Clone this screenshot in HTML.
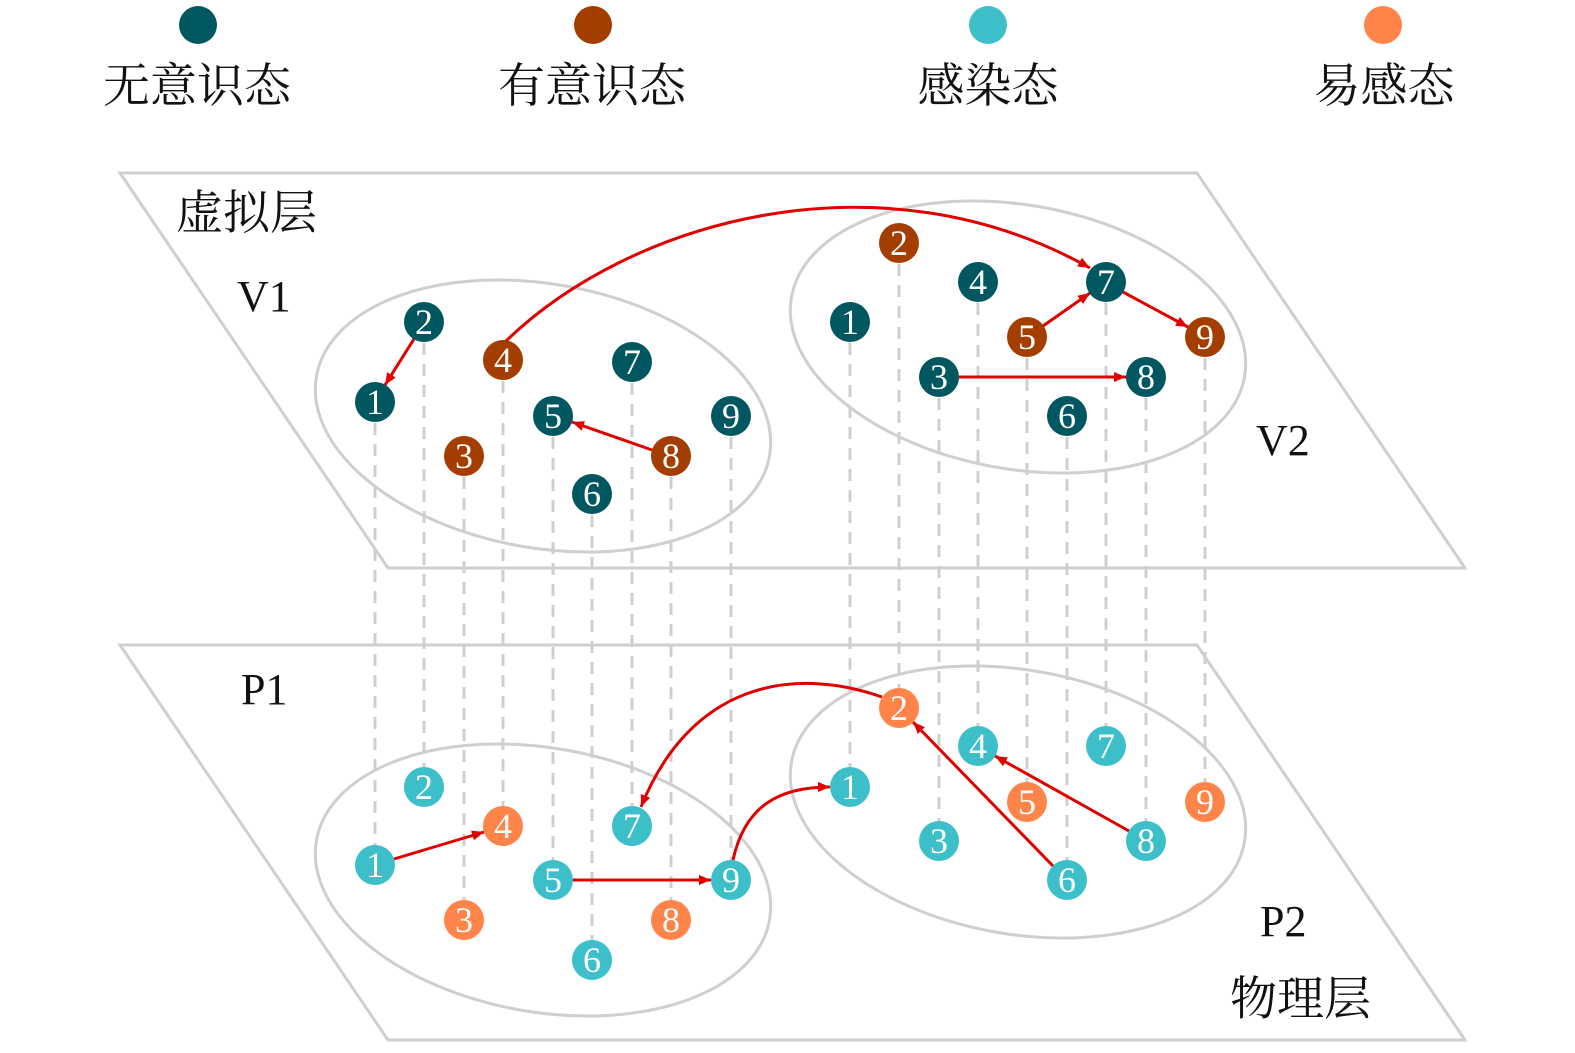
<!DOCTYPE html>
<html><head><meta charset="utf-8"><style>
html,body{margin:0;padding:0;background:#fff;}
svg{display:block}
.cj{font-family:"Liberation Serif","Noto Serif CJK SC",serif;font-size:47px;fill:#111;}
.lb{font-family:"Liberation Serif",serif;font-size:44px;fill:#111;}
.n{font-family:"Liberation Serif",serif;font-size:36px;fill:#fff;text-anchor:middle;dominant-baseline:central;}
</style></head><body>
<svg width="1575" height="1053" viewBox="0 0 1575 1053" xmlns="http://www.w3.org/2000/svg">
<defs>
<marker id="a" markerUnits="userSpaceOnUse" markerWidth="14" markerHeight="12" refX="12" refY="5" orient="auto">
<path d="M0,0 L12,5 L0,10 z" fill="#e00000"/></marker>
</defs>
<circle cx="198" cy="25" r="19" fill="#005760"/>
<circle cx="593" cy="25" r="19" fill="#a33d00"/>
<circle cx="988" cy="25" r="19" fill="#3cbfc9"/>
<circle cx="1383" cy="25" r="19" fill="#ff8449"/>
<text class="cj" x="197" y="102" text-anchor="middle">无意识态</text>
<text class="cj" x="592" y="102" text-anchor="middle">有意识态</text>
<text class="cj" x="988" y="102" text-anchor="middle">感染态</text>
<text class="cj" x="1384" y="102" text-anchor="middle">易感态</text>
<g fill="none" stroke="#cfcfcf" stroke-width="3">
<polygon points="120,173 1197,173 1465,568 388,568"/>
<polygon points="120,645 1197,645 1465,1040 388,1040"/>
<ellipse cx="543" cy="416" rx="230" ry="132" transform="rotate(10 543 416)"/>
<ellipse cx="1018" cy="337" rx="230" ry="132" transform="rotate(10 1018 337)"/>
<ellipse cx="543" cy="880" rx="230" ry="132" transform="rotate(10 543 880)"/>
<ellipse cx="1018" cy="802" rx="230" ry="132" transform="rotate(10 1018 802)"/>
</g>
<text class="cj" x="176" y="229">虚拟层</text>
<text class="cj" x="1230" y="1015">物理层</text>
<text class="lb" x="237" y="311">V1</text>
<text class="lb" x="1256" y="455">V2</text>
<text class="lb" x="241" y="704">P1</text>
<text class="lb" x="1260" y="936">P2</text>
<g stroke="#cfcfcf" stroke-width="3" stroke-dasharray="12,9">
<line x1="375" y1="402" x2="375" y2="865"/>
<line x1="424" y1="322" x2="424" y2="787"/>
<line x1="464" y1="456" x2="464" y2="920"/>
<line x1="503" y1="360" x2="503" y2="826"/>
<line x1="553" y1="416" x2="553" y2="880"/>
<line x1="592" y1="494" x2="592" y2="960"/>
<line x1="632" y1="362" x2="632" y2="826"/>
<line x1="671" y1="456" x2="671" y2="920"/>
<line x1="731" y1="416" x2="731" y2="880"/>
<line x1="850" y1="322" x2="850" y2="787"/>
<line x1="899" y1="243" x2="899" y2="708"/>
<line x1="939" y1="377" x2="939" y2="841"/>
<line x1="978" y1="282" x2="978" y2="746"/>
<line x1="1027" y1="337" x2="1027" y2="802"/>
<line x1="1067" y1="416" x2="1067" y2="880"/>
<line x1="1106" y1="282" x2="1106" y2="746"/>
<line x1="1146" y1="377" x2="1146" y2="841"/>
<line x1="1205" y1="337" x2="1205" y2="802"/>
</g>
<g stroke="#e00000" stroke-width="3" fill="none" marker-end="url(#a)">
<line x1="414" y1="339" x2="385" y2="385"/>
<line x1="652" y1="450" x2="572" y2="422"/>
<path d="M505,342 C630,220 880,150 1090,268"/>
<line x1="1043" y1="326" x2="1090" y2="293"/>
<line x1="1123" y1="292" x2="1188" y2="327"/>
<line x1="959" y1="377" x2="1126" y2="377"/>
<line x1="394" y1="859" x2="484" y2="832"/>
<line x1="573" y1="880" x2="711" y2="880"/>
<path d="M733,860 C745,805 780,787 830,787"/>
<path d="M882,697 C790,665 690,685 641,807"/>
<line x1="1053" y1="866" x2="913" y2="722"/>
<line x1="1129" y1="831" x2="995" y2="756"/>
</g>
<g>
<circle cx="375" cy="402" r="20" fill="#005760"/><text class="n" x="375" y="402">1</text>
<circle cx="424" cy="322" r="20" fill="#005760"/><text class="n" x="424" y="322">2</text>
<circle cx="464" cy="456" r="20" fill="#a33d00"/><text class="n" x="464" y="456">3</text>
<circle cx="503" cy="360" r="20" fill="#a33d00"/><text class="n" x="503" y="360">4</text>
<circle cx="553" cy="416" r="20" fill="#005760"/><text class="n" x="553" y="416">5</text>
<circle cx="592" cy="494" r="20" fill="#005760"/><text class="n" x="592" y="494">6</text>
<circle cx="632" cy="362" r="20" fill="#005760"/><text class="n" x="632" y="362">7</text>
<circle cx="671" cy="456" r="20" fill="#a33d00"/><text class="n" x="671" y="456">8</text>
<circle cx="731" cy="416" r="20" fill="#005760"/><text class="n" x="731" y="416">9</text>
<circle cx="850" cy="322" r="20" fill="#005760"/><text class="n" x="850" y="322">1</text>
<circle cx="899" cy="243" r="20" fill="#a33d00"/><text class="n" x="899" y="243">2</text>
<circle cx="939" cy="377" r="20" fill="#005760"/><text class="n" x="939" y="377">3</text>
<circle cx="978" cy="282" r="20" fill="#005760"/><text class="n" x="978" y="282">4</text>
<circle cx="1027" cy="337" r="20" fill="#a33d00"/><text class="n" x="1027" y="337">5</text>
<circle cx="1067" cy="416" r="20" fill="#005760"/><text class="n" x="1067" y="416">6</text>
<circle cx="1106" cy="282" r="20" fill="#005760"/><text class="n" x="1106" y="282">7</text>
<circle cx="1146" cy="377" r="20" fill="#005760"/><text class="n" x="1146" y="377">8</text>
<circle cx="1205" cy="337" r="20" fill="#a33d00"/><text class="n" x="1205" y="337">9</text>
<circle cx="375" cy="865" r="20" fill="#3cbfc9"/><text class="n" x="375" y="865">1</text>
<circle cx="424" cy="787" r="20" fill="#3cbfc9"/><text class="n" x="424" y="787">2</text>
<circle cx="464" cy="920" r="20" fill="#ff8449"/><text class="n" x="464" y="920">3</text>
<circle cx="503" cy="826" r="20" fill="#ff8449"/><text class="n" x="503" y="826">4</text>
<circle cx="553" cy="880" r="20" fill="#3cbfc9"/><text class="n" x="553" y="880">5</text>
<circle cx="592" cy="960" r="20" fill="#3cbfc9"/><text class="n" x="592" y="960">6</text>
<circle cx="632" cy="826" r="20" fill="#3cbfc9"/><text class="n" x="632" y="826">7</text>
<circle cx="671" cy="920" r="20" fill="#ff8449"/><text class="n" x="671" y="920">8</text>
<circle cx="731" cy="880" r="20" fill="#3cbfc9"/><text class="n" x="731" y="880">9</text>
<circle cx="850" cy="787" r="20" fill="#3cbfc9"/><text class="n" x="850" y="787">1</text>
<circle cx="899" cy="708" r="20" fill="#ff8449"/><text class="n" x="899" y="708">2</text>
<circle cx="939" cy="841" r="20" fill="#3cbfc9"/><text class="n" x="939" y="841">3</text>
<circle cx="978" cy="746" r="20" fill="#3cbfc9"/><text class="n" x="978" y="746">4</text>
<circle cx="1027" cy="802" r="20" fill="#ff8449"/><text class="n" x="1027" y="802">5</text>
<circle cx="1067" cy="880" r="20" fill="#3cbfc9"/><text class="n" x="1067" y="880">6</text>
<circle cx="1106" cy="746" r="20" fill="#3cbfc9"/><text class="n" x="1106" y="746">7</text>
<circle cx="1146" cy="841" r="20" fill="#3cbfc9"/><text class="n" x="1146" y="841">8</text>
<circle cx="1205" cy="802" r="20" fill="#ff8449"/><text class="n" x="1205" y="802">9</text>
</g>
</svg>
</body></html>
